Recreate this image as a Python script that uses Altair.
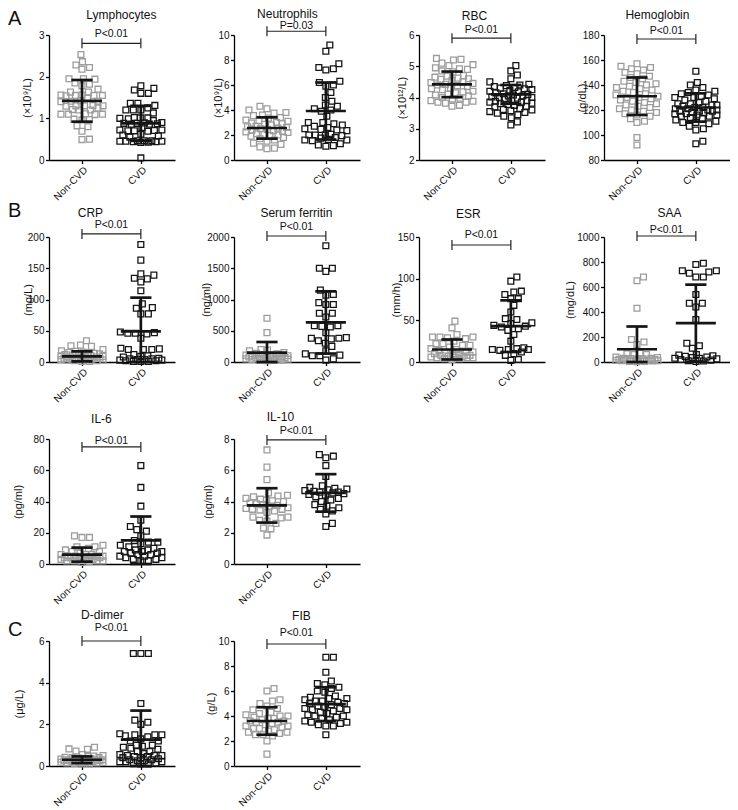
import altair as alt
import numpy as np
import pandas as pd

FONT = "Liberation Sans"
GROUPS = ["Non-CVD", "CVD"]
GREY = "#9c9c9c"
BLACK = "#151515"

# ---------------- data ----------------
lymph_non = [2.53, 2.36, 2.28, 2.22, 2.18, 1.95, 1.95, 1.94, 1.85, 1.82, 1.78, 1.70, 1.63, 1.63,
             1.56, 1.55, 1.55, 1.54, 1.55, 1.56, 1.48, 1.42, 1.41, 1.41, 1.40, 1.31, 1.30, 1.30,
             1.29, 1.30, 1.25, 1.21, 1.20, 1.20, 1.10, 1.10, 1.09, 1.10, 1.11, 0.97, 0.98, 0.96,
             0.82, 0.80, 0.69, 0.49, 0.50]
lymph_cvd = [1.78, 1.72, 1.68, 1.60, 1.60, 1.36, 1.36, 1.31, 1.25, 1.20, 1.20, 1.20, 1.13, 1.02,
             1.01, 1.01, 1.00, 0.99, 0.95, 0.90, 0.89, 0.88, 0.88, 0.87, 0.86, 0.86, 0.78, 0.72,
             0.72, 0.71, 0.70, 0.70, 0.69, 0.62, 0.60, 0.58, 0.55, 0.46, 0.46, 0.46, 0.45, 0.45,
             0.45, 0.44, 0.44, 0.43, 0.42, 0.05]
neut_non = [4.3, 4.1, 4.0, 3.8, 3.75, 3.6, 3.55, 3.4, 3.35, 3.2, 3.15, 3.1, 3.0, 2.95, 2.9, 2.85,
            2.8, 2.7, 2.65, 2.6, 2.55, 2.5, 2.45, 2.4, 2.35, 2.3, 2.25, 2.2, 2.1, 2.05, 2.0, 1.95,
            1.9, 1.8, 1.7, 1.6, 1.5, 1.35, 1.25, 1.05, 0.95, 0.9]
neut_cvd = [9.2, 8.7, 7.7, 7.4, 7.3, 7.2, 6.3, 6.2, 6.0, 5.9, 5.4, 5.0, 4.7, 4.4, 4.3, 4.1, 4.0,
            3.9, 3.5, 3.0, 3.0, 2.9, 2.8, 2.7, 2.6, 2.5, 2.45, 2.4, 2.35, 2.05, 2.0, 2.0, 2.0,
            1.95, 1.8, 1.75, 1.65, 1.6, 1.6, 1.55, 1.3, 1.2, 1.15, 1.1]
rbc_non = [5.25, 5.22, 5.2, 5.1, 5.05, 5.02, 4.95, 4.92, 4.9, 4.85, 4.82, 4.7, 4.68, 4.65, 4.62,
           4.6, 4.58, 4.55, 4.5, 4.48, 4.45, 4.42, 4.4, 4.38, 4.35, 4.3, 4.28, 4.25, 4.2, 4.18,
           4.15, 4.1, 4.08, 4.05, 4.0, 3.98, 3.95, 3.9, 3.88, 3.85, 3.85, 3.82, 3.75, 3.72]
rbc_cvd = [5.02, 4.85, 4.72, 4.6, 4.5, 4.42, 4.4, 4.38, 4.35, 4.32, 4.3, 4.28, 4.25, 4.22, 4.2,
           4.18, 4.15, 4.12, 4.1, 4.08, 4.05, 4.05, 4.02, 4.0, 4.0, 3.98, 3.95, 3.92, 3.9, 3.88,
           3.85, 3.85, 3.82, 3.8, 3.78, 3.75, 3.72, 3.7, 3.65, 3.62, 3.6, 3.58, 3.55, 3.52, 3.5,
           3.45, 3.4, 3.35, 3.22, 3.12]
hb_non = [157, 155, 154, 153, 152, 150, 149, 147, 146, 145, 143, 142, 141, 140, 139, 138, 137,
          136, 135, 134, 133, 132, 131, 130, 130, 129, 128, 127, 126, 125, 124, 123, 122, 121,
          120, 119, 118, 117, 116, 115, 113, 111, 110, 98, 92]
hb_cvd = [151, 142, 140, 138, 136, 135, 134, 133, 132, 131, 130, 130, 129, 128, 127, 126, 125,
          125, 124, 124, 123, 122, 122, 121, 121, 120, 120, 119, 119, 119, 118, 118, 117, 117,
          116, 116, 115, 115, 114, 113, 112, 111, 110, 110, 109, 107, 105, 104, 95, 93]
crp_non = [34, 27, 26, 25, 20, 18, 17, 16, 15, 15, 14, 13, 12, 12, 11, 10, 10, 9, 9, 8, 8, 7, 7,
           6, 6, 6, 5, 5, 5, 4, 4, 3, 3, 2, 2, 1, 1]
crp_cvd = [188, 163, 141, 139, 134, 133, 128, 114, 93, 87, 86, 77, 77, 48, 47, 46, 46, 45, 38, 22,
           21, 20, 20, 20, 12, 10, 9, 8, 6, 5, 5, 4, 4, 3, 3, 2, 2, 1, 1, 1]
fer_non = [700, 470, 200, 190, 180, 150, 140, 130, 120, 110, 110, 100, 100, 90, 90, 80, 80, 75,
           70, 65, 60, 55, 50, 50, 45, 40, 35, 30, 25, 20]
fer_cvd = [1860, 1500, 1500, 1450, 1150, 1080, 1070, 950, 920, 920, 780, 780, 720, 580, 580, 570,
           560, 470, 390, 380, 380, 370, 340, 300, 250, 180, 130, 110, 100, 100, 50, 30]
esr_non = [49, 41, 33, 30, 30, 30, 29, 28, 25, 22, 22, 20, 20, 18, 16, 15, 14, 12, 12, 11, 10, 10,
           9, 8, 8, 7, 7, 6, 6, 5, 5, 5, 4, 4, 3]
esr_cvd = [102, 97, 85, 84, 81, 76, 76, 68, 60, 52, 51, 47, 46, 44, 43, 42, 40, 38, 33, 25, 17,
           16, 15, 15, 15, 14, 12, 10, 8, 3, 2]
saa_non = [680, 650, 430, 180, 160, 140, 70, 65, 60, 60, 40, 35, 30, 30, 28, 25, 25, 22, 20, 20,
           18, 15, 15, 12, 10, 10, 8, 5, 5, 3]
saa_cvd = [790, 780, 730, 730, 720, 710, 680, 680, 540, 470, 470, 440, 340, 150, 130, 110, 60, 55,
           50, 45, 40, 35, 30, 30, 25, 20, 15, 10, 8, 5]
il6_non = [18, 17, 17, 12, 11, 11, 10, 9, 8, 8, 7, 6, 6, 6, 5, 5, 5, 5, 4, 4, 4, 4, 4, 3, 3, 3, 3,
           2, 2, 2, 2, 1.5, 1]
il6_cvd = [63, 49, 37, 28, 24, 22, 21, 18, 15, 14, 14, 13, 12, 11, 10, 9, 9, 8, 8, 8, 7, 7, 6, 6,
           5, 5, 4, 4, 3, 3, 2, 2]
il10_non = [7.3, 6.2, 5.4, 4.55, 4.4, 4.35, 4.3, 4.2, 4.15, 4.1, 4.05, 4.0, 3.9, 3.85, 3.8, 3.75,
            3.7, 3.6, 3.55, 3.5, 3.5, 3.45, 3.4, 3.3, 3.0, 3.0, 2.95, 2.8, 2.75, 2.6, 2.3, 2.25,
            1.85]
il10_cvd = [7.0, 6.9, 6.8, 6.3, 5.6, 5.0, 4.9, 4.85, 4.8, 4.75, 4.7, 4.65, 4.6, 4.6, 4.55, 4.5,
            4.45, 4.4, 4.3, 4.2, 4.1, 4.0, 3.8, 3.7, 3.6, 3.5, 3.4, 3.2, 2.6, 2.4]
dd_non = [0.9, 0.82, 0.8, 0.72, 0.55, 0.5, 0.48, 0.45, 0.42, 0.4, 0.4, 0.38, 0.35, 0.35, 0.33,
          0.3, 0.3, 0.3, 0.28, 0.27, 0.25, 0.25, 0.25, 0.23, 0.22, 0.2, 0.2, 0.18, 0.17, 0.15,
          0.15, 0.12, 0.1, 0.1]
dd_cvd = [5.4, 5.4, 5.4, 3.0, 2.2, 2.1, 2.0, 1.55, 1.5, 1.5, 1.5, 1.45, 1.4, 1.3, 1.2, 1.2, 1.0,
          1.0, 0.95, 0.9, 0.85, 0.8, 0.7, 0.7, 0.6, 0.55, 0.5, 0.5, 0.5, 0.45, 0.45, 0.4, 0.4,
          0.35, 0.3, 0.3, 0.25, 0.25, 0.2, 0.2, 0.2, 0.15, 0.15, 0.1, 0.1]
fib_non = [6.2, 6.0, 5.3, 5.2, 5.0, 4.8, 4.6, 4.5, 4.3, 4.2, 4.1, 4.0, 4.0, 3.9, 3.8, 3.8, 3.7,
           3.6, 3.6, 3.5, 3.5, 3.4, 3.3, 3.2, 3.2, 3.1, 3.0, 3.0, 2.9, 2.8, 2.7, 2.7, 2.6, 2.5,
           2.5, 2.4, 2.0, 0.95]
fib_cvd = [8.7, 8.7, 7.5, 6.8, 6.6, 6.5, 6.3, 6.2, 6.0, 5.9, 5.6, 5.5, 5.4, 5.4, 5.3, 5.2, 5.2,
           5.1, 5.0, 5.0, 4.9, 4.8, 4.7, 4.6, 4.6, 4.5, 4.5, 4.4, 4.3, 4.2, 4.1, 4.0, 4.0, 3.9,
           3.8, 3.7, 3.6, 3.5, 3.5, 3.4, 3.3, 3.2, 3.2, 2.5]

names = ["Lymphocytes", "Neutrophils", "RBC", "Hemoglobin", "CRP", "Serum ferritin", "ESR",
         "SAA", "IL-6", "IL-10", "D-dimer", "FIB"]
units = ["(×10⁹/L)", "(×10⁹/L)", "(×10¹²/L)", "(g/dL)", "(mg/L)", "(ng/ml)", "(mm/h)",
         "(mg/dL)", "(pg/ml)", "(pg/ml)", "(μg/L)", "(g/L)"]
pvals = ["P<0.01", "P=0.03", "P<0.01", "P<0.01", "P<0.01", "P<0.01", "P<0.01", "P<0.01",
         "P<0.01", "P<0.01", "P<0.01", "P<0.01"]
y_domains = [[0, 3], [0, 10], [2, 6], [80, 180], [0, 200], [0, 2000], [0, 150], [0, 1000],
             [0, 80], [0, 8], [0, 6], [0, 10]]
y_ticks = [[0, 1, 2, 3], [0, 2, 4, 6, 8, 10], [2, 3, 4, 5, 6], [80, 100, 120, 140, 160, 180],
           [0, 50, 100, 150, 200], [0, 500, 1000, 1500, 2000], [0, 50, 100, 150],
           [0, 200, 400, 600, 800, 1000], [0, 20, 40, 60, 80], [0, 2, 4, 6, 8], [0, 2, 4, 6],
           [0, 2, 4, 6, 8, 10]]
non_values = [lymph_non, neut_non, rbc_non, hb_non, crp_non, fer_non, esr_non, saa_non, il6_non,
              il10_non, dd_non, fib_non]
cvd_values = [lymph_cvd, neut_cvd, rbc_cvd, hb_cvd, crp_cvd, fer_cvd, esr_cvd, saa_cvd, il6_cvd,
              il10_cvd, dd_cvd, fib_cvd]
# mean and SD (Non-CVD, CVD) as drawn
means = [[1.42, 0.88], [2.56, 3.92], [4.42, 4.10], [131, 122], [9, 49], [150, 633], [15, 43],
         [102, 311], [6, 15.1], [3.75, 4.55], [0.30, 1.27], [3.6, 4.95]]
sds = [[0.50, 0.42], [0.85, 2.28], [0.41, 0.30], [15, 11.3], [8, 54], [170, 498], [12, 31],
       [182, 308], [4.5, 15.3], [1.1, 1.2], [0.16, 1.39], [1.1, 1.35]]
# significance bracket height and P-label baseline (data units)
bracket_y = [2.80, 10.3, 5.9, 176.8, 205, 2016, 140.4, 1008, 74.9, 7.94, 6.0, 9.76]
plabel_y = [2.96, 10.45, 6.06, 180.5, 214, 2112, 149, 1032, 76.8, 8.32, 6.48, 10.4]

# ---------------- layout / style ----------------
W, H = 126, 125
XDOM = [0.44, 2.58]
XPX = W / (XDOM[1] - XDOM[0])
MEAN_HALF = 0.34
CAP_HALF = 0.18
title_y = [-16.5, -17, -15.5, -16.5, -19.7, -19.7, -18.7, -19.7, -16, -18.3, -22, -21.3]
title_dx = [10, -9, -7, -9, -21, 0, -13, 3, -10, -16, -9, 5]
ytitle_x = [-21.5, -16, -16.5, -22, -21, -27.5, -23, -34, -31, -26, -29.5, -23]
letters = {0: ("A", -10.5), 4: ("B", -20), 10: ("C", -5)}


def swarm(values, ypx, d=7.2, maxoff=21.0):
    vals = np.asarray(values, float)
    order = np.argsort(vals)
    cands = [0.0]
    k = 0.5
    while k <= maxoff:
        cands += [k, -k]
        k += 0.5
    placed = []
    offs = np.zeros(len(vals))
    for i in order:
        y = vals[i] * ypx
        chosen, best, bestd = None, 0.0, -1.0
        for c in cands:
            md = min((np.hypot(c - px, y - py) for px, py in placed), default=1e9)
            if md >= d:
                chosen = c
                break
            if md > bestd:
                bestd, best = md, c
        if chosen is None:
            chosen = best
        placed.append((chosen, y))
        offs[i] = chosen
    return offs


def panel(i):
    lo, hi = y_domains[i]
    ypx = H / (hi - lo)
    pts = []
    for gi, vals in enumerate([non_values[i], cvd_values[i]]):
        offs = swarm(vals, ypx)
        for v, o in zip(vals, offs):
            pts.append({"x": gi + 1 + o / XPX, "y": v, "group": GROUPS[gi]})
    pts = pd.DataFrame(pts)

    segs = []
    for gi in range(2):
        m, s = means[i][gi], sds[i][gi]
        a, b = max(m - s, lo), min(m + s, hi)
        c = gi + 1
        segs += [dict(x=c - MEAN_HALF, x2=c + MEAN_HALF, y=m, y2=m),
                 dict(x=c - CAP_HALF, x2=c + CAP_HALF, y=a, y2=a),
                 dict(x=c - CAP_HALF, x2=c + CAP_HALF, y=b, y2=b),
                 dict(x=c, x2=c, y=a, y2=b)]
    segs = pd.DataFrame(segs)

    yb = bracket_y[i]
    h = 5.0 / ypx
    br = pd.DataFrame([dict(x=1, x2=2, y=yb, y2=yb),
                       dict(x=1, x2=1, y=yb - h, y2=yb + h),
                       dict(x=2, x2=2, y=yb - h, y2=yb + h)])

    xenc = alt.X("x:Q", scale=alt.Scale(domain=XDOM, nice=False, zero=False),
                 axis=alt.Axis(values=[1, 2], labelExpr="datum.value == 1 ? 'Non-CVD' : 'CVD'",
                               title=None, labelAngle=-45, labelAlign="right",
                               labelBaseline="top", labelFontSize=10, labelPadding=1,
                               labelOverlap=False, labelFlush=False, grid=False))
    yenc = alt.Y("y:Q", scale=alt.Scale(domain=[lo, hi], nice=False, zero=False),
                 axis=alt.Axis(values=y_ticks[i], format="d", title=units[i],
                               titleX=ytitle_x[i], titleBaseline="middle", titleFontSize=11,
                               labelFontSize=10, labelPadding=1.5, labelOverlap=False,
                               grid=False))

    points = alt.Chart(pts).mark_point(shape="square", filled=False, size=34, strokeWidth=1.3,
                                        opacity=1).encode(
        x=xenc, y=yenc,
        color=alt.Color("group:N", scale=alt.Scale(domain=GROUPS, range=[GREY, BLACK]),
                        legend=None))
    stats = alt.Chart(segs).mark_rule(strokeWidth=2.7, color=BLACK).encode(
        x=xenc, x2="x2:Q", y=yenc, y2="y2:Q")
    bracket = alt.Chart(br).mark_rule(strokeWidth=1.2, color="#222").encode(
        x=xenc, x2="x2:Q", y=yenc, y2="y2:Q")
    ptxt = alt.Chart(pd.DataFrame({"x": [1.5], "y": [plabel_y[i]], "label": [pvals[i]]})).mark_text(
        font=FONT, fontSize=10.5, baseline="alphabetic", color="#111").encode(
        x=xenc, y=yenc, text="label:N")
    ttl = alt.Chart(pd.DataFrame({"x": [1.5], "label": [names[i]]})).mark_text(
        font=FONT, fontSize=12, baseline="alphabetic", dx=title_dx[i], color="#111").encode(
        x=xenc, y=alt.value(title_y[i]), text="label:N")
    layers = [points, stats, bracket, ptxt, ttl]
    if i in letters:
        t, ly = letters[i]
        layers.append(alt.Chart(pd.DataFrame({"label": [t]})).mark_text(
            font=FONT, fontSize=20, align="left", baseline="alphabetic", color="#111").encode(
            x=alt.value(-41), y=alt.value(ly), text="label:N"))
    return alt.layer(*layers).properties(width=W, height=H)


def blank():
    return alt.Chart(pd.DataFrame({"v": [0]})).mark_point(opacity=0).encode(
        x=alt.value(0), y=alt.value(0)).properties(width=W, height=H)


cells = [panel(i) for i in range(8)] + [panel(8), panel(9), blank(), blank(),
                                        panel(10), panel(11)]
chart = alt.concat(*cells, columns=4, spacing={"row": 77, "column": 59},
                   bounds="flush").properties(padding=0).configure_axis(
    domainColor="#000", domainWidth=1.3, tickColor="#000", tickWidth=1.3, tickSize=3.5,
    labelFont=FONT, labelColor="#111", titleFont=FONT, titleFontWeight="normal",
    titleColor="#111", grid=False
).configure_view(strokeWidth=0)

chart.save("out.html", embed_options={"renderer": "svg", "actions": False})
